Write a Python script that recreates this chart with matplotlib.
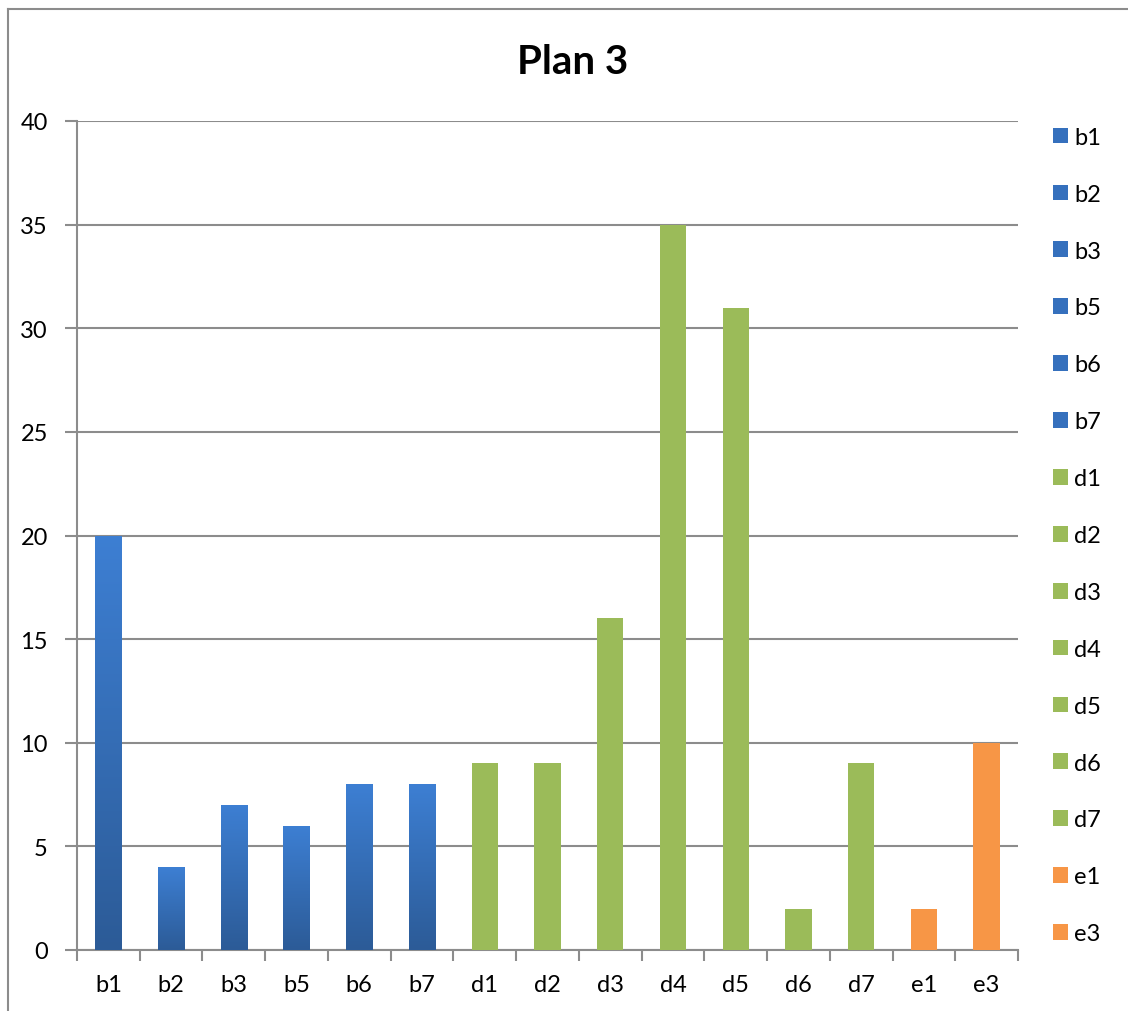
import matplotlib
matplotlib.use("Agg")
import matplotlib.pyplot as plt
import matplotlib.patches as mpatches
from matplotlib.lines import Line2D
import numpy as np
from matplotlib.colors import LinearSegmentedColormap

plt.rcParams["font.family"] = ["Lato", "DejaVu Sans"]

# Values per location
categories = ["b1", "b2", "b3", "b5", "b6", "b7",
              "d1", "d2", "d3", "d4", "d5", "d6", "d7",
              "e1", "e3"]
values = [20, 4, 7, 6, 8, 8,
          9, 9, 16, 35, 31, 2, 9,
          2, 10]
groups = ["b"] * 6 + ["d"] * 7 + ["e"] * 2

GREEN = "#9BBB59"
ORANGE = "#F79646"
BLUE_TOP = "#3D7FD3"
BLUE_BOTTOM = "#2C5B97"
blue_cmap = LinearSegmentedColormap.from_list("blue_grad", [BLUE_BOTTOM, BLUE_TOP])
GRID = "#8C8C8C"

fig = plt.figure(figsize=(11.28, 10.12), dpi=100)
ax = fig.add_axes([77 / 1128, 61 / 1012, (1018 - 77) / 1128, (951 - 122) / 1012])

x = np.arange(len(categories))
width = 0.42
gradient = np.linspace(0, 1, 256).reshape(-1, 1)

handles = []
for xi, v, g, name in zip(x, values, groups, categories):
    if g == "b":
        bar = ax.bar(xi, v, width, color=BLUE_TOP, zorder=3)[0]
        im = ax.imshow(gradient, cmap=blue_cmap, origin="lower", aspect="auto",
                       extent=[xi - width / 2, xi + width / 2, 0, v], zorder=3.5)
        im.set_clip_path(bar)
        handles.append(mpatches.Patch(facecolor="#3570BD", label=name))
    else:
        c = GREEN if g == "d" else ORANGE
        ax.bar(xi, v, width, color=c, zorder=3)
        handles.append(mpatches.Patch(facecolor=c, label=name))

ax.set_xlim(-0.5, len(categories) - 0.5)
ax.set_ylim(0, 40)
ax.set_yticks(np.arange(0, 41, 5))
ax.set_xticks(x)
ax.set_xticklabels(categories)
ax.set_xticks(np.arange(-0.5, len(categories), 1), minor=True)
ax.tick_params(axis="x", which="major", length=0, pad=17, labelsize=17)
ax.tick_params(axis="x", which="minor", length=8, width=1.5, color=GRID, direction="out")
ax.tick_params(axis="y", length=9, width=1.5, color=GRID, pad=12, labelsize=17)
ax.grid(axis="y", color=GRID, linewidth=1.5, zorder=0)
ax.set_axisbelow(True)
for side in ["top", "right"]:
    ax.spines[side].set_visible(False)
for side in ["left", "bottom"]:
    ax.spines[side].set_color(GRID)
    ax.spines[side].set_linewidth(1.5)

fig.text(573 / 1128, 1 - 62 / 1012, "Plan 3", ha="center", va="center",
         fontsize=29, fontweight="bold")

fig.legend(handles=handles, loc="upper left", bbox_to_anchor=(1041 / 1128, 1 - 116 / 1012),
           frameon=False, fontsize=17, handlelength=0.65, handleheight=0.65,
           handletextpad=0.25, labelspacing=1.52, borderpad=0)

# outer chart border (only left and top edges are in view)
bx, by = 8 / 1128, 1 - 10 / 1012
fig.add_artist(Line2D([bx, bx], [0, by], transform=fig.transFigure, color=GRID, linewidth=1.5))
fig.add_artist(Line2D([bx, 1], [by, by], transform=fig.transFigure, color=GRID, linewidth=1.5))

fig.savefig("out.png", dpi=100)
